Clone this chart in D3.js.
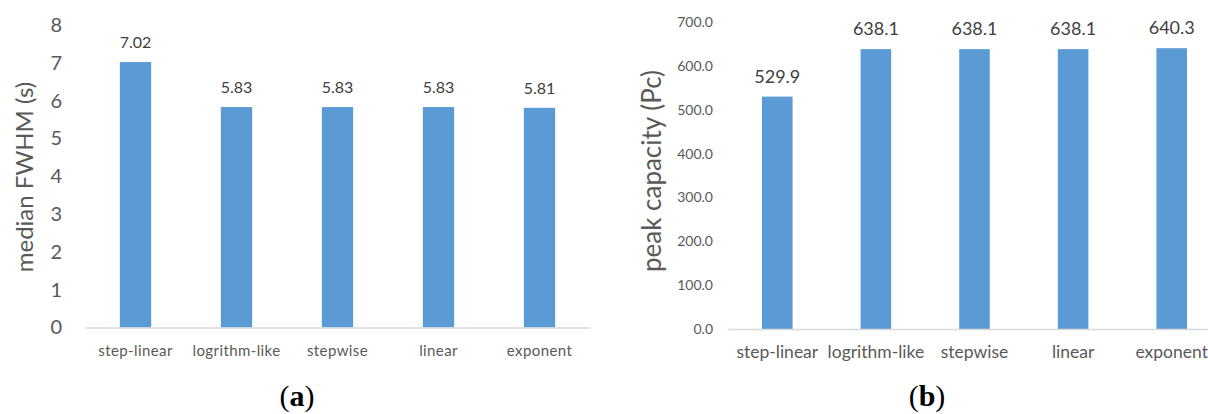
<!DOCTYPE html>
<html>
<head>
<meta charset="utf-8">
<script src="https://cdn.jsdelivr.net/npm/d3@7"></script>
<style>
  body { margin: 0; background: #fff; }
  text { font-family: Lato, 'Open Sans', sans-serif; }
</style>
</head>
<body>
<div id="container"></div>
<script>
const w = 1208
const h = 414

// data
const categories = ['step-linear', 'logrithm-like', 'stepwise', 'linear', 'exponent']
const fwhmValues = [7.02, 5.83, 5.83, 5.83, 5.81]
const fwhmLabels = ['7.02', '5.83', '5.83', '5.83', '5.81']
const fwhmTicks = [0, 1, 2, 3, 4, 5, 6, 7, 8]
const capacityValues = [529.9, 638.1, 638.1, 638.1, 640.3]
const capacityTicks = [0, 100, 200, 300, 400, 500, 600, 700]

const barColor = '#5b9bd5'
const textColor = '#595959'

const svg = d3.select('#container')
              .append('svg')
              .attr('width', w)
              .attr('height', h)

function drawPanel(opts) {
  const g = svg.append('g')
  const xScale = d3.scaleBand()
                   .domain(categories)
                   .range([opts.left, opts.right])
                   .paddingInner(0.69)
                   .paddingOuter(0.345)
  const yScale = d3.scaleLinear()
                   .domain([0, opts.max])
                   .range([opts.bottom, opts.top])

  // y axis (labels only)
  const yAxis = d3.axisLeft(yScale)
                  .tickValues(opts.ticks)
                  .tickSize(0)
                  .tickPadding(opts.yPad)
                  .tickFormat(opts.tickFormat)
  const ya = g.append('g')
              .attr('transform', 'translate(' + opts.left + ',0)')
              .call(yAxis)
  ya.select('.domain').remove()
  ya.selectAll('text')
    .attr('fill', textColor)
    .style('font-size', opts.yFont + 'px')

  // bars
  g.selectAll('rect')
   .data(opts.values)
   .enter()
   .append('rect')
   .attr('x', (d, i) => xScale(categories[i]))
   .attr('y', d => yScale(d))
   .attr('width', xScale.bandwidth())
   .attr('height', d => opts.bottom - yScale(d))
   .attr('fill', barColor)

  // x axis
  const xAxis = d3.axisBottom(xScale)
                  .tickSize(0)
                  .tickSizeOuter(0)
                  .tickPadding(opts.xPad)
  const xa = g.append('g')
              .attr('transform', 'translate(0,' + opts.bottom + ')')
              .call(xAxis)
  xa.select('.domain').attr('stroke', '#d9d9d9').attr('stroke-width', 1.3)
  xa.selectAll('text')
    .attr('fill', textColor)
    .style('font-size', opts.xFont + 'px')
    .style('letter-spacing', opts.xSpacing + 'px')

  // value labels
  g.selectAll('.val')
   .data(opts.values)
   .enter()
   .append('text')
   .attr('class', 'val')
   .attr('x', (d, i) => xScale(categories[i]) + xScale.bandwidth() / 2)
   .attr('y', d => yScale(d) - 14)
   .attr('text-anchor', 'middle')
   .attr('fill', '#404040')
   .style('font-size', opts.valFont + 'px')
   .text((d, i) => opts.valFormat(d, i))

  // y title
  g.append('text')
   .attr('transform', 'translate(' + opts.titleX + ',' + opts.titleY + ') rotate(-90)')
   .attr('text-anchor', 'middle')
   .attr('dy', '0.35em')
   .attr('fill', textColor)
   .style('font-size', opts.titleFont + 'px')
   .text(opts.title)

  // panel letter
  const cap = g.append('text')
               .attr('x', opts.capX)
               .attr('y', 406)
               .attr('text-anchor', 'middle')
               .attr('fill', '#000')
               .style('font-family', "'Liberation Serif', 'DejaVu Serif', serif")
               .style('font-size', '30px')
  cap.append('tspan').text('(')
  cap.append('tspan').style('font-weight', 'bold').text(opts.cap)
  cap.append('tspan').text(')')
}

drawPanel({
  left: 85, right: 590, top: 25, bottom: 327.5, max: 8,
  ticks: fwhmTicks, tickFormat: d3.format('d'), yPad: 23, yFont: 20,
  values: fwhmValues, valFormat: (d, i) => fwhmLabels[i], valFont: 16,
  xPad: 18, xFont: 15, xSpacing: 0.4,
  title: 'median FWHM (s)', titleX: 25, titleY: 177, titleFont: 24,
  cap: 'a', capX: 297
})

drawPanel({
  left: 728, right: 1221, top: 22, bottom: 329, max: 700,
  ticks: capacityTicks, tickFormat: d3.format('.1f'), yPad: 15, yFont: 14,
  values: capacityValues, valFormat: d => d3.format('.1f')(d), valFont: 18,
  xPad: 17, xFont: 17.5, xSpacing: 0,
  title: 'peak capacity (Pc)', titleX: 652, titleY: 171, titleFont: 26,
  cap: 'b', capX: 927
})
</script>
</body>
</html>
